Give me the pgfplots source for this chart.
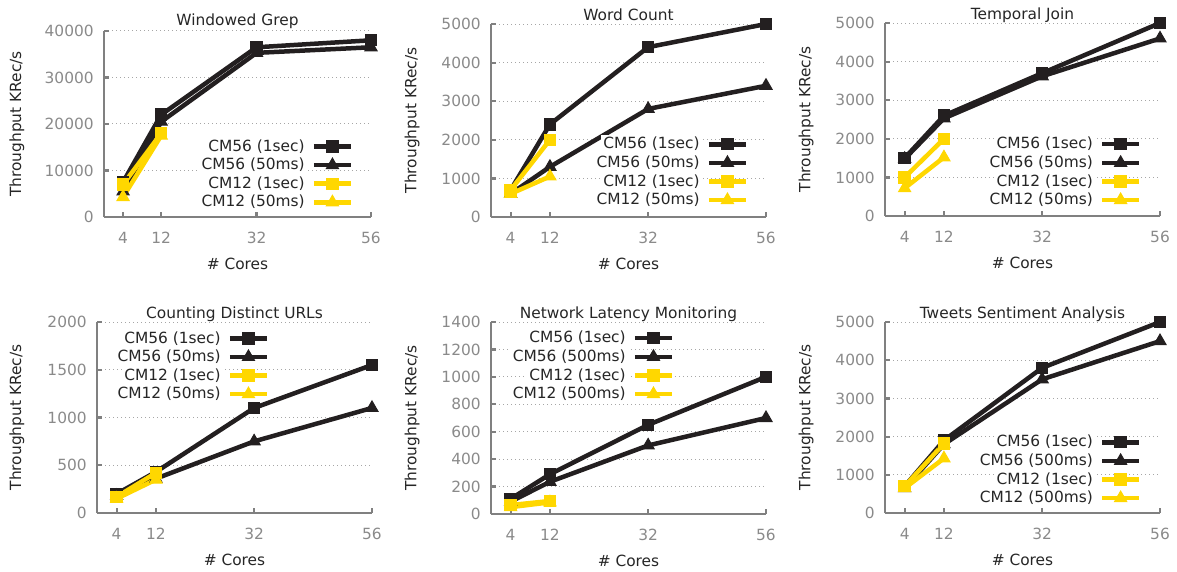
\documentclass[border=0pt]{standalone}
\usepackage{pgfplots}
\pgfplotsset{compat=1.18}
\usepackage{fontspec}
\setmainfont{DejaVu Sans}

\definecolor{serblack}{HTML}{231F20}
\definecolor{seryel}{HTML}{FFD700}
\definecolor{axisgray}{HTML}{808080}
\definecolor{ticktext}{HTML}{8A8A8A}
\definecolor{gridgray}{HTML}{A6A6A6}
\definecolor{labeltext}{HTML}{262626}

\pgfplotsset{
  cmaxis/.style={
    scale only axis, anchor=south west, clip=false,
    xmin=0, xmax=56, ymin=0, enlargelimits=false,
    xtick={4,12,32,56},
    axis lines=left,
    axis line style={-, draw=axisgray, line width=2.5pt},
    tick align=inside,
    major tick length=5pt,
    tick style={draw=axisgray, line width=2.2pt},
    ymajorgrids,
    grid style={draw=gridgray, line width=1pt, dash pattern=on 1pt off 3pt},
    tick label style={text=ticktext},
    /pgf/number format/assume math mode=true,
    /pgf/number format/1000 sep={},
    scaled y ticks=false,
    xticklabel style={anchor=base, yshift=-26pt},
    yticklabel style={xshift=-5pt},
    xlabel={\# Cores},
    ylabel={Throughput KRec/s},
    label style={text=labeltext},
    xlabel style={at={(axis description cs:0.5,0)}, anchor=center, yshift=-47pt},
    title style={at={(axis description cs:0.5,1)}, anchor=base, yshift=-2pt, text=labeltext},
    legend style={draw=none, fill=none, inner sep=0pt, row sep=0pt, column sep=0pt,
      anchor=north east,
      nodes={inner xsep=2pt, inner ysep=2.3pt, text=labeltext, fill=white}},
    legend cell align=right,
    legend plot pos=right,
    legend image code/.code={\draw[mark repeat=2, mark phase=2, ##1] plot coordinates {(0pt,0pt) (18.5pt,0pt) (37pt,0pt)} (-5pt,0pt);},
  },
  bsq/.style={draw=serblack, line width=4.5pt, mark=square*, mark size=5.7pt,
    mark options={solid, line width=1pt, draw=serblack, fill=serblack}},
  btr/.style={draw=serblack, line width=4.5pt, mark=triangle*, mark size=7pt,
    mark options={solid, line width=1pt, draw=serblack, fill=serblack}},
  ysq/.style={draw=seryel, line width=4.5pt, mark=square*, mark size=5.7pt,
    mark options={solid, line width=1pt, draw=seryel, fill=seryel}},
  ytr/.style={draw=seryel, line width=4.5pt, mark=triangle*, mark size=7pt,
    mark options={solid, line width=1pt, draw=seryel, fill=seryel}},
}

\begin{document}
\fontsize{15.4pt}{18pt}\selectfont%
\begin{tikzpicture}
\path[use as bounding box] (0pt,0pt) rectangle (1177pt,571pt);

% Windowed Grep
\begin{axis}[cmaxis, at={(104pt,354pt)}, width=267pt, height=186pt,
  ymax=40000, ytick={0,10000,20000,30000,40000},
  title={Windowed Grep}, title style={yshift=1.5pt},
  ylabel style={at={(axis description cs:-0.326,0.5)}, anchor=center},
  legend style={at={(0.934,0.43)}}]
\addplot[bsq] coordinates {(4,7500) (12,22000) (32,36500) (56,38000)};
\addplot[btr] coordinates {(4,5500) (12,20500) (32,35300) (56,36500)};
\addplot[ysq] coordinates {(4,7000) (12,18000)};
\addplot[ytr] coordinates {(4,4300) (12,17500)};
\legend{CM56 (1sec), CM56 (50ms), CM12 (1sec), CM12 (50ms)}
\end{axis}

% Word Count
\begin{axis}[cmaxis, at={(491pt,354pt)}, width=275pt, height=193pt,
  ymax=5000, ytick={0,1000,2000,3000,4000,5000},
  title={Word Count},
  ylabel style={at={(axis description cs:-0.287,0.5)}, anchor=center},
  legend style={at={(0.936,0.426)}}]
\addplot[bsq] coordinates {(4,700) (12,2400) (32,4400) (56,5000)};
\addplot[btr] coordinates {(4,600) (12,1300) (32,2800) (56,3400)};
\addplot[ysq] coordinates {(4,700) (12,2000)};
\addplot[ytr] coordinates {(4,600) (12,1050)};
\legend{CM56 (1sec), CM56 (50ms), CM12 (1sec), CM12 (50ms)}
\end{axis}

% Temporal Join
\begin{axis}[cmaxis, at={(885pt,355pt)}, width=275pt, height=193pt,
  ymax=5000, ytick={0,1000,2000,3000,4000,5000},
  title={Temporal Join},
  ylabel style={at={(axis description cs:-0.287,0.5)}, anchor=center},
  legend style={at={(0.933,0.421)}}]
\addplot[bsq] coordinates {(4,1500) (12,2600) (32,3700) (56,5000)};
\addplot[btr] coordinates {(4,1480) (12,2530) (32,3620) (56,4600)};
\addplot[ysq] coordinates {(4,1000) (12,2000)};
\addplot[ytr] coordinates {(4,720) (12,1520)};
\legend{CM56 (1sec), CM56 (50ms), CM12 (1sec), CM12 (50ms)}
\end{axis}

% Counting Distinct URLs
\begin{axis}[cmaxis, at={(97pt,58pt)}, width=275pt, height=191pt,
  ymax=2000, ytick={0,500,1000,1500,2000},
  title={Counting Distinct URLs},
  ylabel style={at={(axis description cs:-0.291,0.5)}, anchor=center},
  legend style={at={(0.627,0.964)}}]
\addplot[bsq] coordinates {(4,200) (12,430) (32,1100) (56,1550)};
\addplot[btr] coordinates {(4,180) (12,360) (32,750) (56,1100)};
\addplot[ysq] coordinates {(4,170) (12,420)};
\addplot[ytr] coordinates {(4,150) (12,350)};
\legend{CM56 (1sec), CM56 (50ms), CM12 (1sec), CM12 (50ms)}
\end{axis}

% Network Latency Monitoring
\begin{axis}[cmaxis, at={(491pt,57pt)}, width=275pt, height=192pt,
  ymax=1400, ytick={0,200,400,600,800,1000,1200,1400},
  title={Network Latency Monitoring},
  ylabel style={at={(axis description cs:-0.287,0.5)}, anchor=center},
  legend style={at={(0.667,0.965)}}]
\addplot[bsq] coordinates {(4,110) (12,290) (32,650) (56,1000)};
\addplot[btr] coordinates {(4,90) (12,235) (32,500) (56,700)};
\addplot[ysq] coordinates {(4,65) (12,95)};
\addplot[ytr] coordinates {(4,50) (12,85)};
\legend{CM56 (1sec), CM56 (500ms), CM12 (1sec), CM12 (500ms)}
\end{axis}

% Tweets Sentiment Analysis
\begin{axis}[cmaxis, at={(885pt,58pt)}, width=275pt, height=191pt,
  ymax=5000, ytick={0,1000,2000,3000,4000,5000},
  title={Tweets Sentiment Analysis},
  ylabel style={at={(axis description cs:-0.287,0.5)}, anchor=center},
  legend style={at={(0.933,0.42)}}]
\addplot[bsq] coordinates {(4,700) (12,1900) (32,3800) (56,5000)};
\addplot[btr] coordinates {(4,650) (12,1800) (32,3500) (56,4500)};
\addplot[ysq] coordinates {(4,700) (12,1820)};
\addplot[ytr] coordinates {(4,650) (12,1430)};
\legend{CM56 (1sec), CM56 (500ms), CM12 (1sec), CM12 (500ms)}
\end{axis}
\end{tikzpicture}
\end{document}
